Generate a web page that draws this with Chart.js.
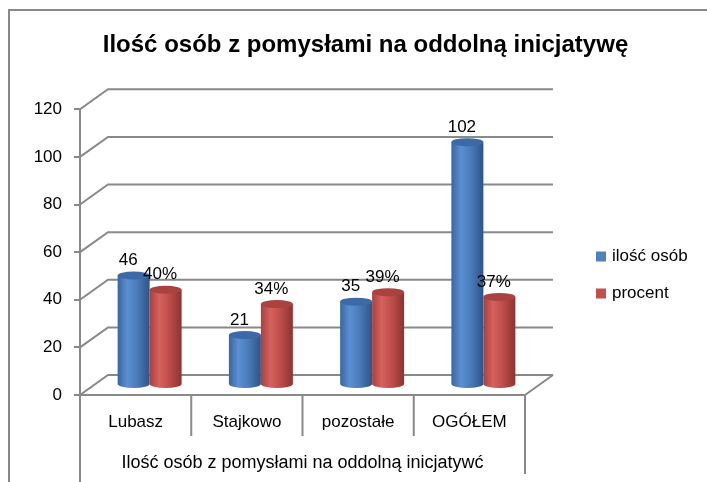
<!DOCTYPE html>
<html>
<head>
<meta charset="utf-8">
<script src="https://cdn.jsdelivr.net/npm/chart.js@4.4.0/dist/chart.umd.min.js"></script>
<style>
  body { margin: 0; background: #fff; }
  canvas { display: block; }
</style>
</head>
<body>
<canvas id="grafica" width="707" height="482"></canvas>
<script>
const kategorie = ['Lubasz', 'Stajkowo', 'pozostałe', 'OGÓŁEM'];
const iloscOsob = [46, 21, 35, 102];
const procent = [40, 34, 39, 37];
const osY = { min: 0, max: 120, krok: 20 };

const tytul = 'Ilość osób z pomysłami na oddolną inicjatywę';
const tytulOsiX = 'Ilość osób z pomysłami na oddolną inicjatywć';

const FONT = "'Liberation Sans', Arial, sans-serif";
const SZARY = '#898989';
const GLEBIA = { dx: 28, dy: -20 };

const kolory = {
    niebieski: { baza: '#4f81bd', stops: ['#3a669f', '#5b8fd3', '#4a7cba', '#2d5487'], cap: '#3d6aa6' },
    czerwony: { baza: '#c0504d', stops: ['#a8413e', '#d6615e', '#bf4e4b', '#8c3331'], cap: '#aa4340' }
};

// ramka, tylna sciana, podloga i tabela pod osia
const scena3d = {
    id: 'scena3d',
    beforeDraw(chart) {
        const c = chart.ctx;
        c.save();
        c.fillStyle = '#fff';
        c.fillRect(0, 0, chart.width, chart.height);
        c.strokeStyle = SZARY;
        c.lineWidth = 2;
        c.beginPath();
        c.moveTo(9, chart.height);
        c.lineTo(9, 10);
        c.lineTo(chart.width, 10);
        c.stroke();
        c.restore();
    },
    beforeDatasetsDraw(chart) {
        const c = chart.ctx;
        const y = chart.scales.y;
        const x = chart.scales.x;
        const { left, right, bottom } = chart.chartArea;
        c.save();
        c.strokeStyle = SZARY;
        c.lineWidth = 2;
        y.ticks.forEach(t => {
            const py = y.getPixelForValue(t.value);
            c.beginPath();
            c.moveTo(left, py);
            c.lineTo(left + GLEBIA.dx, py + GLEBIA.dy);
            c.lineTo(right + GLEBIA.dx, py + GLEBIA.dy);
            c.stroke();
        });
        // prawy bok podlogi
        c.beginPath();
        c.moveTo(right, bottom);
        c.lineTo(right + GLEBIA.dx, bottom + GLEBIA.dy);
        c.stroke();

        // tabela kategorii
        c.beginPath();
        c.moveTo(left, bottom);
        c.lineTo(left, chart.height);
        c.moveTo(right, bottom);
        c.lineTo(right, chart.height - 8);
        for (let i = 0; i < kategorie.length - 1; i++) {
            const px = (x.getPixelForValue(i) + x.getPixelForValue(i + 1)) / 2;
            c.moveTo(px, bottom);
            c.lineTo(px, bottom + 41);
        }
        c.stroke();
        c.restore();
    },
    beforeDatasetDraw() {
        return false;
    },
    afterDatasetsDraw(chart) {
        const c = chart.ctx;
        chart.data.datasets.forEach((ds, i) => {
            const meta = chart.getDatasetMeta(i);
            const kol = ds.kolor;
            meta.data.forEach((el, j) => {
                const p = el.getProps(['x', 'y', 'base', 'width'], true);
                const cx = p.x + GLEBIA.dx / 2;
                const top = p.y + GLEBIA.dy / 2;
                const dol = p.base + GLEBIA.dy / 2;
                const rx = p.width / 2;
                const ry = 4;

                const g = c.createLinearGradient(cx - rx, 0, cx + rx, 0);
                g.addColorStop(0, kol.stops[0]);
                g.addColorStop(0.3, kol.stops[1]);
                g.addColorStop(0.6, kol.stops[2]);
                g.addColorStop(1, kol.stops[3]);

                c.save();
                c.fillStyle = g;
                c.beginPath();
                c.moveTo(cx - rx, top);
                c.lineTo(cx - rx, dol);
                c.ellipse(cx, dol, rx, ry, 0, Math.PI, 0, true);
                c.lineTo(cx + rx, top);
                c.closePath();
                c.fill();

                c.fillStyle = kol.cap;
                c.beginPath();
                c.ellipse(cx, top, rx, ry, 0, 0, Math.PI * 2);
                c.fill();

                c.fillStyle = '#000';
                c.font = '17px ' + FONT;
                c.textAlign = 'center';
                c.textBaseline = 'middle';
                c.fillText(ds.data[j] + ds.sufiks, cx - 5.5, top - 15);
                c.restore();
            });
        });
    },
    afterDraw(chart) {
        const c = chart.ctx;
        c.save();
        c.font = '17px ' + FONT;
        c.textBaseline = 'middle';
        chart.data.datasets.forEach((ds, i) => {
            const yy = 256.5 + i * 37;
            c.fillStyle = ds.kolor.baza;
            c.fillRect(596, yy - 5, 10, 10);
            c.fillStyle = '#000';
            c.fillText(ds.label, 612, yy);
        });
        c.restore();
    }
};

document.addEventListener('DOMContentLoaded', function () {
    const ctx = document.getElementById('grafica').getContext('2d');

    new Chart(ctx, {
        type: 'bar',
        data: {
            labels: kategorie,
            datasets: [{
                label: 'ilość osób',
                data: iloscOsob,
                sufiks: '',
                kolor: kolory.niebieski,
                backgroundColor: kolory.niebieski.baza
            }, {
                label: 'procent',
                data: procent,
                sufiks: '%',
                kolor: kolory.czerwony,
                backgroundColor: kolory.czerwony.baza
            }]
        },
        options: {
            responsive: false,
            animation: false,
            devicePixelRatio: 1,
            categoryPercentage: 0.575,
            barPercentage: 1,
            layout: { padding: { left: 24, right: 0, top: 0, bottom: 0 } },
            plugins: {
                legend: { display: false },
                tooltip: { enabled: false },
                title: {
                    display: true,
                    text: tytul,
                    color: '#000',
                    font: { family: FONT, size: 24, weight: 'bold' },
                    padding: { top: 31, bottom: 49.5 }
                }
            },
            scales: {
                x: {
                    grid: { display: false },
                    border: { display: true, color: SZARY, width: 2 },
                    ticks: { color: '#000', font: { family: FONT, size: 17 }, padding: 9 },
                    title: {
                        display: true,
                        text: tytulOsiX,
                        color: '#000',
                        font: { family: FONT, size: 18 },
                        padding: { top: 0, bottom: 8 }
                    },
                    afterFit: s => { s.height = 87; }
                },
                y: {
                    min: osY.min,
                    max: osY.max,
                    ticks: { stepSize: osY.krok, color: '#000', font: { family: FONT, size: 17 }, padding: 12 },
                    grid: { display: true, drawOnChartArea: false, drawTicks: true, tickLength: 6, color: SZARY, lineWidth: 2 },
                    border: { display: true, color: SZARY, width: 2 },
                    afterFit: s => { s.width = 56; }
                },
                miejsce: {
                    type: 'linear',
                    position: 'right',
                    display: true,
                    grid: { display: false },
                    border: { display: false },
                    ticks: { display: false },
                    afterFit: s => { s.width = 182; }
                }
            }
        },
        plugins: [scena3d]
    });
});
</script>
</body>
</html>
